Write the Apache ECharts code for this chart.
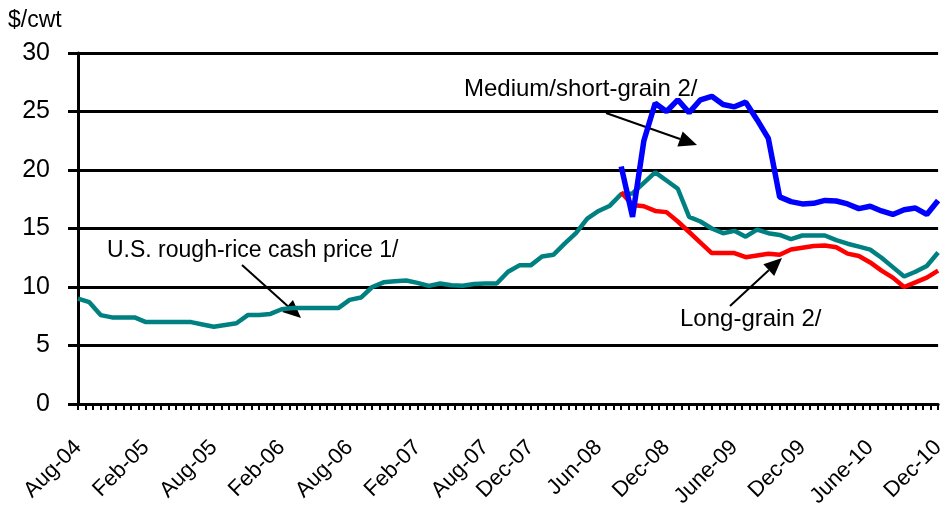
<!DOCTYPE html>
<html>
<head>
<meta charset="utf-8">
<script src="https://cdn.jsdelivr.net/npm/echarts@6/dist/echarts.min.js"></script>
<style>
  html, body { margin: 0; padding: 0; background: #fff; }
  #riceChart { width: 948px; height: 516px; }
</style>
</head>
<body>
<div id="riceChart"></div>
<script>
// monthly, Aug-04 .. Dec-10
const monthNames = ['Jan', 'Feb', 'Mar', 'Apr', 'May', 'Jun', 'Jul', 'Aug', 'Sep', 'Oct', 'Nov', 'Dec'];
const months = [];
for (let i = 0; i < 77; i++) {
  const m = (7 + i) % 12;
  const y = 2004 + Math.floor((7 + i) / 12);
  months.push(monthNames[m] + '-' + String(y % 100).padStart(2, '0'));
}

const labelIdx = [0, 6, 12, 18, 24, 30, 36, 40, 46, 52, 58, 64, 70, 76];
const labelText = ['Aug-04', 'Feb-05', 'Aug-05', 'Feb-06', 'Aug-06', 'Feb-07', 'Aug-07',
  'Dec-07', 'Jun-08', 'Dec-08', 'June-09', 'Dec-09', 'June-10', 'Dec-10'];

// U.S. rough-rice cash price 1/
const roughRice = [
  9.0, 8.7, 7.6, 7.4, 7.4, 7.4, 7.0, 7.0, 7.0, 7.0, 7.0, 6.8, 6.6, 6.75, 6.9, 7.6,
  7.6, 7.7, 8.1, 8.2, 8.2, 8.2, 8.2, 8.2, 8.9, 9.1, 10.0, 10.4, 10.5, 10.55, 10.35, 10.1,
  10.3, 10.15, 10.1, 10.25, 10.3, 10.3, 11.3, 11.85, 11.85, 12.6, 12.75, 13.7, 14.6, 15.85,
  16.5, 16.95, 17.95, 18.0, 18.9, 19.8, 19.1, 18.4, 16.0, 15.6, 15.0, 14.6, 14.8, 14.3,
  14.9, 14.6, 14.45, 14.1, 14.4, 14.4, 14.4, 14.0, 13.7, 13.45, 13.2, 12.5, 11.7, 10.9,
  11.3, 11.8, 12.95,
];
// Aug-08 .. Dec-10
const mediumShort = [
  20.3, 16.0, 22.5, 25.7, 25.0, 26.0, 24.9, 26.0, 26.3, 25.6, 25.4, 25.8, 24.3, 22.7,
  17.7, 17.3, 17.1, 17.15, 17.4, 17.35, 17.1, 16.7, 16.9, 16.5, 16.2, 16.6, 16.75, 16.2, 17.4,
];
const longGrain = [
  18.1, 17.0, 16.9, 16.5, 16.4, 15.6, 14.7, 13.8, 12.9, 12.9, 12.9, 12.55, 12.7, 12.85,
  12.75, 13.2, 13.35, 13.5, 13.55, 13.4, 12.85, 12.65, 12.1, 11.4, 10.8, 10.0, 10.4, 10.8, 11.4,
];

const lead = Array(months.length - mediumShort.length).fill(null);
const font = "'Liberation Sans', Arial, sans-serif";

function arrow(x1, y1, x2, y2) {
  const dx = x2 - x1, dy = y2 - y1;
  const len = Math.sqrt(dx * dx + dy * dy);
  const ux = dx / len, uy = dy / len;
  const hl = 18, hw = 8;
  const bx = x2 - ux * hl, by = y2 - uy * hl;
  return {
    type: 'group',
    children: [
      { type: 'line', shape: { x1: x1, y1: y1, x2: bx, y2: by }, style: { stroke: '#000', lineWidth: 2 } },
      {
        type: 'polygon',
        shape: { points: [[x2, y2], [bx - uy * hw, by + ux * hw], [bx + uy * hw, by - ux * hw]] },
        style: { fill: '#000' },
      },
    ],
  };
}

function label(text, x, y, size) {
  return {
    type: 'text', x: x, y: y,
    style: { text: text, font: size + 'px ' + font, fill: '#000', textVerticalAlign: 'middle' },
  };
}

const chart = echarts.init(document.getElementById('riceChart'));
chart.setOption({
  animation: false,
  backgroundColor: '#fff',
  grid: { left: 78, right: 3, top: 53, bottom: 112 },
  xAxis: [
    {
      type: 'category',
      data: months,
      boundaryGap: false,
      axisLine: { lineStyle: { color: '#000', width: 3 } },
      axisTick: { show: false },
      axisLabel: {
        interval: (i) => labelIdx.includes(i),
        formatter: (v, i) => labelText[labelIdx.indexOf(i)],
        rotate: 45,
        margin: 40,
        fontSize: 22,
        fontFamily: font,
        color: '#000',
      },
      splitLine: { show: false },
    },
    {
      type: 'value',
      position: 'bottom',
      min: 0,
      max: 114,
      interval: 1,
      axisLine: { show: false },
      axisTick: { length: 6, lineStyle: { color: '#000', width: 2 } },
      axisLabel: { show: false },
      splitLine: { show: false },
    },
  ],
  yAxis: {
    type: 'value',
    min: 0,
    max: 30,
    interval: 5,
    axisLine: { show: true, lineStyle: { color: '#000', width: 3 } },
    axisTick: { show: true, length: 10, lineStyle: { color: '#000', width: 3 } },
    axisLabel: { fontSize: 25, fontFamily: font, color: '#000', margin: 28 },
    splitLine: { lineStyle: { color: '#000', width: 3 } },
  },
  series: [
    {
      name: 'U.S. rough-rice cash price 1/',
      type: 'line',
      data: roughRice,
      symbol: 'none',
      lineStyle: { color: '#008080', width: 4.5 },
    },
    {
      name: 'Long-grain 2/',
      type: 'line',
      data: lead.concat(longGrain),
      symbol: 'none',
      lineStyle: { color: '#FF0000', width: 4.5 },
    },
    {
      name: 'Medium/short-grain 2/',
      type: 'line',
      data: lead.concat(mediumShort),
      symbol: 'none',
      lineStyle: { color: '#0000FF', width: 5.5 },
    },
  ],
  graphic: [
    { type: 'text', left: 8, top: 9, style: { text: '$/cwt', font: '23px ' + font, fill: '#000' } },
    label('Medium/short-grain 2/', 464, 89, 24),
    arrow(606, 113, 697, 145),
    label('U.S. rough-rice cash price 1/', 107, 251, 23),
    arrow(242, 265, 301, 318),
    label('Long-grain 2/', 680, 319, 24),
    arrow(730, 306, 782, 258),
  ],
});
</script>
</body>
</html>
